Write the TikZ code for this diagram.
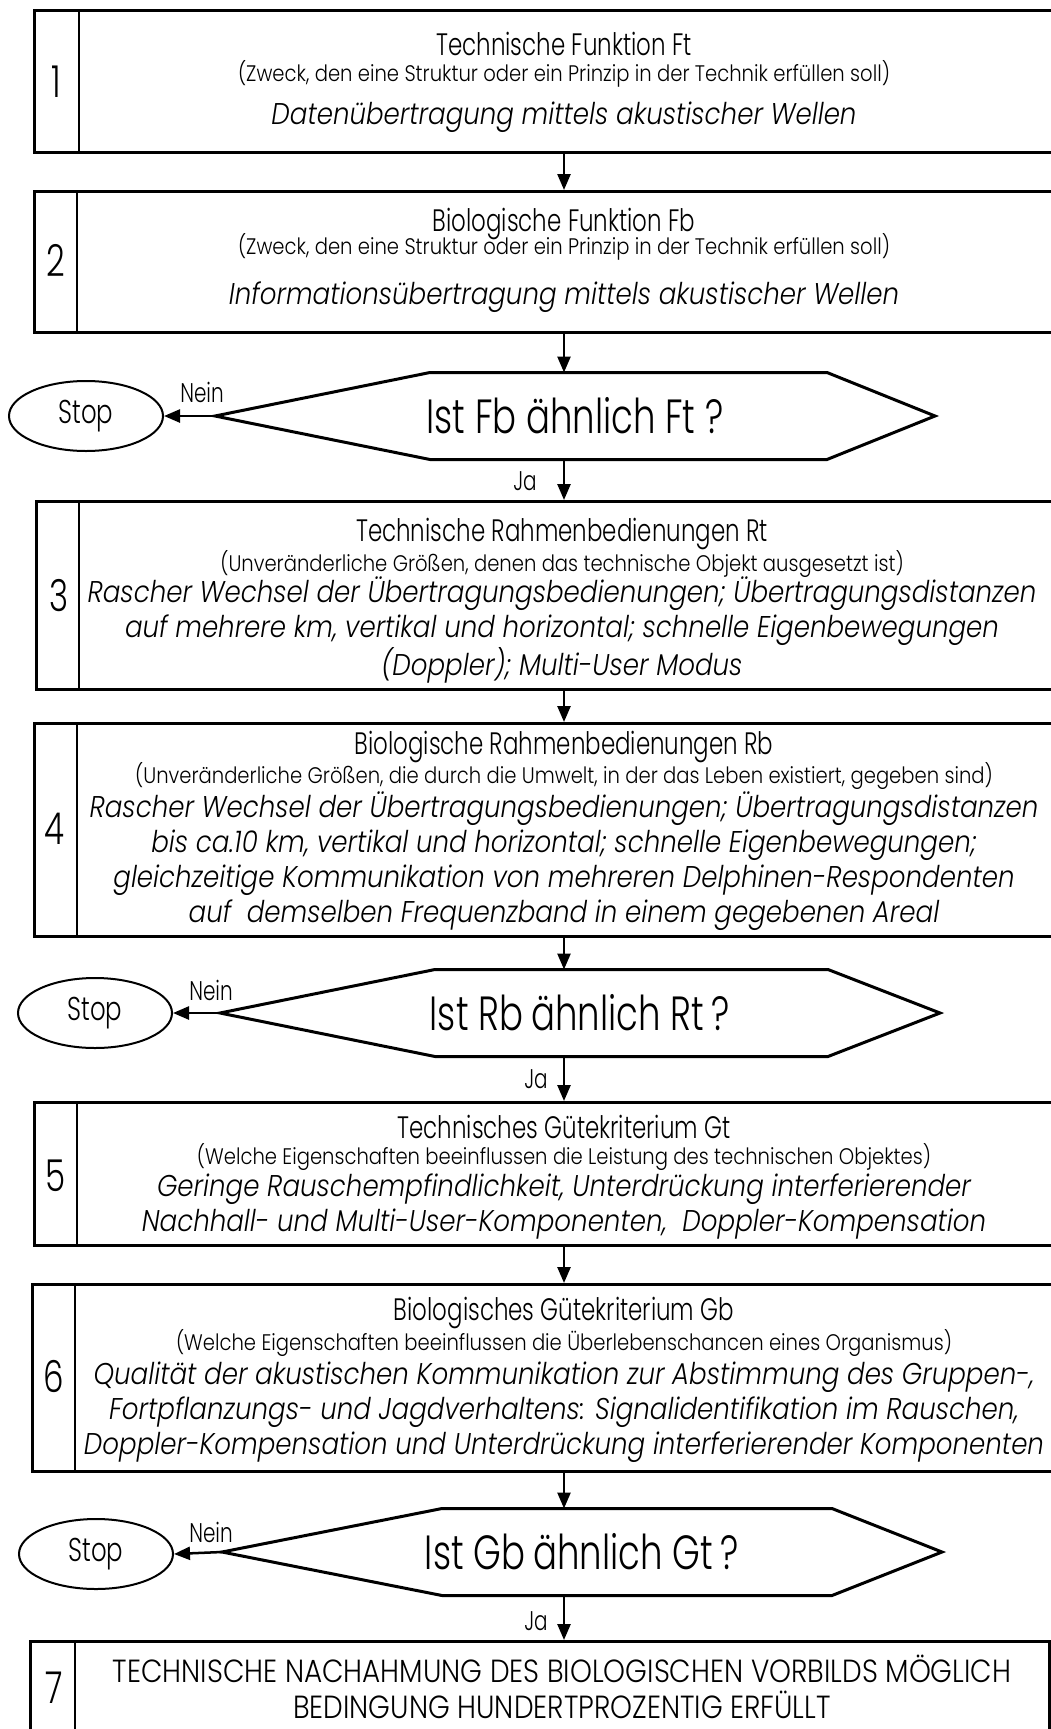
\documentclass[tikz,border=0pt]{standalone}
\usepackage{fontspec}
\setmainfont{Poppins Light}
\newfontfamily\condfont[FakeStretch=0.74]{Poppins Light}
\newfontfamily\bodyfnt[FakeStretch=0.87]{Poppins Light}
\usetikzlibrary{arrows.meta, shapes.geometric}

\begin{document}
\begin{tikzpicture}[
  x=1pt, y=-1pt,
  frame/.style={draw, line width=3pt, inner sep=0pt, anchor=north west, minimum width=1021pt},
  divider/.style={line width=2pt},
  numtxt/.style={font=\condfont\fontsize{44}{44}\selectfont},
  ttl/.style={font=\condfont\fontsize{31}{31}\selectfont},
  subttl/.style={font=\bodyfnt\fontsize{22.5}{22.5}\selectfont},
  body/.style={font=\bodyfnt\itshape\fontsize{30}{35}\selectfont, align=center},
  hexa/.style={minimum width=720pt, minimum height=87pt, inner sep=0pt, outer sep=0pt,
    font=\condfont\fontsize{48}{48}\selectfont},
  hexline/.style={line width=3pt, line join=miter},
  stopnode/.style={ellipse, draw, line width=2pt, minimum width=154pt, minimum height=70pt,
    inner sep=0pt, font=\condfont\fontsize{33}{33}\selectfont},
  lbl/.style={font=\condfont\fontsize{27}{27}\selectfont},
  arr/.style={-{Triangle[length=16pt, width=13pt]}, line width=2.5pt}
]
  \useasboundingbox (0,0) rectangle (1050,1729);
  \fill[white] (0,0) rectangle (1050,1729);
  \coordinate (ax) at (564,0);

  % box 1
  \node[frame, minimum height=142pt] (b1) at (33,9) {};
  \draw[divider] ([xshift=46pt]b1.north west) -- ([xshift=46pt]b1.south west);
  \node[numtxt] (n1) at (56,82) {1};
  \node[ttl] (t1) at (564,44) {Technische Funktion Ft};
  \node[subttl] (u1) at (564,74) {(Zweck, den eine Struktur oder ein Prinzip in der Technik erfüllen soll)};
  \node[body] (c1) at (564,117) {Datenübertragung mittels akustischer Wellen};

  % box 2
  \node[frame, minimum height=141pt] (b2) at (33,190) {};
  \draw[divider] ([xshift=44pt]b2.north west) -- ([xshift=44pt]b2.south west);
  \node[numtxt] (n2) at (56,260) {2};
  \node[ttl] (t2) at (564,224) {Biologische Funktion Fb};
  \node[subttl] (u2) at (564,247) {(Zweck, den eine Struktur oder ein Prinzip in der Technik erfüllen soll)};
  \node[body] (c2) at (564,297) {Informationsübertragung mittels akustischer Wellen};

  % decision 1
  \node[hexa] (h1) at (575,416) {Ist Fb ähnlich Ft ?};
  \draw[hexline] (h1.west) -- ([xshift=215pt]h1.north west) -- ([xshift=-108pt]h1.north east)
    -- (h1.east) -- ([xshift=-108pt]h1.south east) -- ([xshift=215pt]h1.south west) -- cycle;
  \node[stopnode] (s1) at (86,416) {Stop};
  \node[lbl] (no1) at (202,392) {Nein};
  \node[lbl] (ja1) at (525,481) {Ja};

  % box 3
  \node[frame, minimum height=188pt] (b3) at (35,500) {};
  \draw[divider] ([xshift=44pt]b3.north west) -- ([xshift=44pt]b3.south west);
  \node[numtxt] (n3) at (59,596) {3};
  \node[ttl] (t3) at (562,534) {Technische Rahmenbedienungen Rt};
  \node[subttl] (u3) at (562,564) {(Unveränderliche Größen, denen das technische Objekt ausgesetzt ist)};
  \node[body] (c3) at (562,630) {Rascher Wechsel der Übertragungsbedienungen; Übertragungsdistanzen\\
    auf mehrere km, vertikal und horizontal; schnelle Eigenbewegungen\\
    (Doppler); Multi-User Modus};

  % box 4
  \node[frame, minimum height=213pt] (b4) at (33,722) {};
  \draw[divider] ([xshift=44pt]b4.north west) -- ([xshift=44pt]b4.south west);
  \node[numtxt] (n4) at (54,829) {4};
  \node[ttl] (t4) at (564,747) {Biologische Rahmenbedienungen Rb};
  \node[subttl] (u4) at (564,776) {(Unveränderliche Größen, die durch die Umwelt, in der das Leben existiert, gegeben sind)};
  \node[body] (c4) at (564,861) {Rascher Wechsel der Übertragungsbedienungen; Übertragungsdistanzen\\
    bis ca.10 km, vertikal und horizontal; schnelle Eigenbewegungen;\\
    gleichzeitige Kommunikation von mehreren Delphinen-Respondenten\\
    auf~ demselben Frequenzband in einem gegebenen Areal};

  % decision 2
  \node[hexa] (h2) at (580,1013) {Ist Rb\,ähnlich Rt\,?};
  \draw[hexline] (h2.west) -- ([xshift=215pt]h2.north west) -- ([xshift=-112pt]h2.north east)
    -- (h2.east) -- ([xshift=-112pt]h2.south east) -- ([xshift=215pt]h2.south west) -- cycle;
  \node[stopnode] (s2) at (95,1013) {Stop};
  \node[lbl] (no2) at (211,990) {Nein};
  \node[lbl] (ja2) at (536,1079) {Ja};

  % box 5
  \node[frame, minimum height=143pt] (b5) at (33,1101) {};
  \draw[divider] ([xshift=44pt]b5.north west) -- ([xshift=44pt]b5.south west);
  \node[numtxt] (n5) at (56,1176) {5};
  \node[ttl] (t5) at (564,1127) {Technisches Gütekriterium Gt};
  \node[subttl] (u5) at (564,1157) {(Welche Eigenschaften beeinflussen die Leistung des technischen Objektes)};
  \node[body] (c5) at (564,1206) {Geringe Rauschempfindlichkeit, Unterdrückung interferierender\\
    Nachhall- und Multi-User-Komponenten,~ Doppler-Kompensation};

  % box 6
  \node[frame, minimum height=187pt] (b6) at (31,1283) {};
  \draw[divider] ([xshift=44pt]b6.north west) -- ([xshift=44pt]b6.south west);
  \node[numtxt] (n6) at (54,1376) {6};
  \node[ttl] (t6) at (564,1313) {Biologisches Gütekriterium Gb};
  \node[subttl] (u6) at (564,1343) {(Welche Eigenschaften beeinflussen die Überlebenschancen eines Organismus)};
  \node[body] (c6) at (564,1412) {Qualität der akustischen Kommunikation zur Abstimmung des Gruppen-,\\
    Fortpflanzungs- und Jagdverhaltens: Signalidentifikation im Rauschen,\\
    Doppler-Kompensation und Unterdrückung interferierender Komponenten};

  % decision 3
  \node[hexa] (h3) at (582,1552) {Ist Gb\,ähnlich Gt\,?};
  \draw[hexline] (h3.west) -- ([xshift=220pt]h3.north west) -- ([xshift=-110pt]h3.north east)
    -- (h3.east) -- ([xshift=-110pt]h3.south east) -- ([xshift=220pt]h3.south west) -- cycle;
  \node[stopnode] (s3) at (96,1554) {Stop};
  \node[lbl] (no3) at (211,1532) {Nein};
  \node[lbl] (ja3) at (536,1621) {Ja};

  % box 7
  \node[frame, minimum width=1019pt, minimum height=130pt] (b7) at (29,1640) {};
  \draw[line width=1.5pt] (b7.north east) -- (b7.south east);
  \draw[divider] ([xshift=46pt]b7.north west) -- ([xshift=46pt]b7.south west);
  \node[numtxt] (n7) at (54,1688) {7};
  \node[align=center, font=\bodyfnt\fontsize{32}{36}\selectfont] (c7) at (562,1687)
    {TECHNISCHE NACHAHMUNG DES BIOLOGISCHEN VORBILDS MÖGLICH\\
     BEDINGUNG HUNDERTPROZENTIG ERFÜLLT};

  % arrows
  \draw[arr] (b1.south -| ax) -- (b2.north -| ax);
  \draw[arr] (b2.south -| ax) -- (h1.north -| ax);
  \draw[arr] (h1.south -| ax) -- (b3.north -| ax);
  \draw[arr] (b3.south -| ax) -- (b4.north -| ax);
  \draw[arr] (b4.south -| ax) -- (h2.north -| ax);
  \draw[arr] (h2.south -| ax) -- (b5.north -| ax);
  \draw[arr] (b5.south -| ax) -- (b6.north -| ax);
  \draw[arr] (b6.south -| ax) -- (h3.north -| ax);
  \draw[arr] (h3.south -| ax) -- (b7.north -| ax);
  \draw[arr] (h1.west) -- (s1.east);
  \draw[arr] (h2.west) -- (s2.east);
  \draw[arr] (h3.west) -- (s3.east);
\end{tikzpicture}
\end{document}
